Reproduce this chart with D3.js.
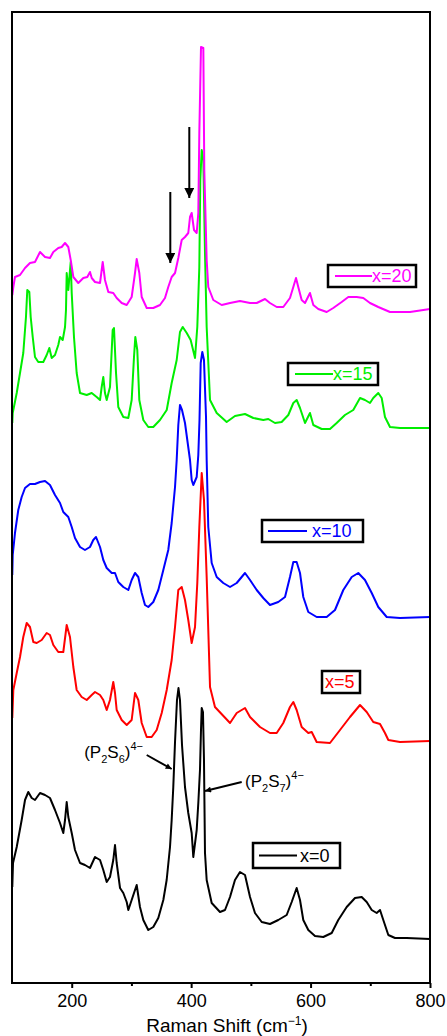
<!DOCTYPE html>
<html>
<head>
<meta charset="utf-8">
<script src="https://cdn.jsdelivr.net/npm/d3@7"></script>
<style>
  body { margin: 0; background: #fff; }
  svg { display: block; font-family: "Liberation Sans", Arial, sans-serif; }
</style>
</head>
<body>
<svg id="chart"></svg>
<script>
// Raman shift (cm-1) vs. stacked intensity (a.u.)
const xTicks = [200, 400, 600, 800];
const xMinorTicks = [300, 500, 700];
const seriesNames = ["x=0", "x=5", "x=10", "x=15", "x=20"];
const seriesColors = ["#000000", "#ff0000", "#0000ff", "#00ee00", "#ff00ff"];

const specX0 = [[100.5,96],[101.7,120],[107.9,136],[116.2,163],[121.8,183],[127.3,191],[133,185],[138.5,183],[146.9,190],[155.3,188],[163.6,185],[172,173],[180.4,160],[185.9,150],[188.8,163],[191.6,181],[194.3,166],[200,150],[205.5,133],[213.9,120],[222.2,118],[230.6,115],[239,126],[247.4,123],[252.9,113],[258.6,101],[264.1,106],[269.6,123],[272.5,138],[275.3,120],[280.9,95],[286.4,90],[292.1,81],[294.8,73],[300.4,83],[308.8,98],[314.3,76],[319.9,63],[328.2,53],[336.6,56],[345,65],[353.4,83],[359,103],[364.6,136],[367.4,163],[370.1,196],[373,241],[376.3,283],[378.8,295],[381.3,283],[384.7,238],[389.7,196],[395.2,170],[400.9,150],[403.6,126],[409.3,153],[412,180],[414.8,213],[416.5,253],[417.7,275],[419.8,271],[421.5,223],[423.2,130],[426,103],[434.4,80],[448.3,71],[456.7,73],[465.1,86],[473.4,103],[481.8,111],[490.2,108],[498.6,86],[506.9,70],[518.2,61],[532,59],[545.9,63],[560,68],[568.4,81],[576.7,95],[582.3,83],[587.8,63],[596.2,53],[607.4,47],[621.3,46],[635.4,50],[646.4,63],[660.5,76],[674.4,85],[685.6,86],[694,81],[702.4,73],[710.7,70],[716.3,73],[721.8,63],[730.2,48],[741.4,45],[761,45],[800,44]];

const specX5 = [[100.5,265],[102.2,293],[107.9,310],[113.4,326],[118.9,346],[124.6,360],[130.1,356],[135.7,341],[141.4,340],[149.7,343],[158.1,350],[163.6,348],[169.2,338],[177.5,331],[185.9,331],[191.6,358],[197.1,346],[202.7,316],[208.3,293],[216.7,286],[225.1,283],[233.5,288],[239,291],[247.4,288],[252.9,283],[258.6,273],[264.1,283],[269.6,301],[272.5,290],[275.3,273],[283.7,263],[292.1,258],[300.4,263],[306,290],[311.5,283],[317.2,260],[325.6,246],[333.9,246],[342.3,253],[350.7,270],[359.1,293],[367.4,323],[373,356],[378.5,393],[384.2,396],[389.7,383],[395.2,363],[400.9,340],[406.5,356],[410.3,400],[413.7,456],[417.7,510],[421.5,483],[426,406],[431.6,296],[439.9,276],[465.1,260],[476.3,270],[490.2,275],[498.6,266],[515.3,256],[532,250],[543.3,250],[554.3,260],[565.5,276],[571.1,281],[576.7,273],[585.1,256],[596.2,250],[601.9,251],[610.2,241],[632.5,240],[649.3,253],[666,266],[682.8,278],[694,271],[705,261],[716.3,259],[724.6,250],[730.2,243],[749.7,241],[800,242]];

const specX10 = [[100.5,408],[101.2,428],[105,450],[110.5,473],[116.2,486],[121.8,495],[130.1,499],[138.5,499],[146.9,501],[155.3,502],[163.6,498],[172,488],[180.4,480],[185.9,471],[194.3,466],[200,456],[205.5,445],[213.9,436],[222.2,433],[230.6,436],[236.1,443],[240.7,446],[247.4,436],[252.9,423],[258.6,415],[267,410],[272.5,410],[278,401],[286.4,396],[294.8,393],[300.4,403],[306,410],[311.5,406],[317.2,390],[322.7,378],[328.2,376],[336.6,381],[345,393],[353.4,413],[361.7,433],[367.4,460],[373,496],[375.8,523],[378.5,558],[381.3,578],[384.7,573],[389.7,560],[398.1,523],[400.9,503],[403.6,498],[409.3,506],[412,528],[414,563],[416,620],[418.7,631],[421.5,623],[424.9,566],[426,523],[428.7,456],[434.4,420],[442.8,406],[453.8,400],[465.1,396],[476.3,400],[490.2,410],[498.6,403],[509.8,393],[520.8,385],[532,378],[545.9,381],[557.2,386],[565.5,406],[571.1,421],[576.7,421],[582.3,410],[587.8,386],[596.2,371],[610.2,366],[627,366],[640.9,373],[654.8,393],[668.9,406],[679.9,410],[691.1,403],[702.4,390],[713.4,376],[727.5,366],[749.7,365],[800,366]];

const specX15 = [[100.5,560],[101.2,570],[107.9,590],[113.4,610],[118.9,630],[123.4,666],[125.6,693],[129,691],[131.3,666],[134.7,646],[138.5,626],[144,621],[152.4,621],[158.1,628],[162.5,635],[166.5,625],[172,628],[177.5,638],[180.4,646],[184.9,643],[188.8,656],[190.4,673],[191.6,710],[194.3,693],[198.3,721],[200,690],[203.8,646],[208.3,610],[213.9,590],[225.1,588],[233.5,590],[241.8,586],[247.4,583],[250.2,596],[252.9,606],[255.7,590],[258.6,583],[264.1,596],[268.6,653],[270.8,655],[274.2,610],[278,576],[286.4,566],[294.8,565],[300.4,583],[304.3,626],[306.5,646],[309.8,633],[313.2,583],[319.9,563],[328.2,556],[336.6,556],[347.8,563],[359.1,573],[367.4,600],[375.8,623],[381.3,651],[385.9,656],[392.6,650],[399.2,643],[406.5,625],[410.3,656],[413.7,716],[415.3,803],[417.7,833],[420.4,823],[423.2,730],[426,656],[431.6,583],[442.8,570],[459.5,561],[473.4,567],[490.2,569],[504.1,565],[520.8,563],[529.2,564],[540.4,560],[551.6,561],[562.7,568],[571.1,580],[576.7,583],[582.3,575],[590.7,560],[599,570],[604.6,558],[618.6,554],[632.5,554],[643.7,560],[657.6,568],[671.5,573],[682.8,585],[691.1,583],[699.5,580],[705,585],[713.4,590],[719.1,585],[724.6,566],[733,556],[749.7,555],[800,555]];

const specX20 = [[100.5,688],[102.2,696],[105,706],[113.4,708],[121.8,715],[130.1,720],[138.5,721],[146.9,731],[155.3,726],[163.6,725],[169.2,731],[177.5,735],[183.2,736],[188.8,740],[194.3,736],[198.3,723],[202.7,706],[211,700],[219.4,705],[226.1,706],[230.6,711],[233.5,705],[239,701],[247.4,700],[251.9,721],[255.7,703],[261.3,691],[269.6,690],[275.3,685],[283.7,680],[292.1,678],[300.4,686],[306,710],[308.8,724],[313.2,710],[317.2,686],[325.6,675],[336.6,675],[347.8,678],[356.2,685],[361.7,696],[367.4,706],[373,710],[378.5,725],[384.2,743],[389.7,746],[395.2,750],[398.1,766],[400.9,770],[404.8,753],[409.3,750],[412,770],[413.7,850],[416.5,936],[420.4,935],[422,813],[426,723],[428.7,696],[437.1,683],[451.2,678],[465.1,680],[481.8,682],[498.6,680],[509.8,680],[523.7,684],[532,680],[543.3,676],[554.3,676],[565.5,685],[571.1,696],[575.6,705],[579.4,696],[585.1,683],[590.7,680],[599,690],[604.6,678],[612.9,674],[627,671],[638,675],[652.1,681],[663.2,686],[677.2,686],[688.3,685],[699.5,680],[713.4,676],[733,671],[766.5,671],[800,674]];

const allSpectra = [specX0, specX5, specX10, specX15, specX20];

// annotation arrows: [shift, from intensity, to intensity]
const downArrows = [[396.9, 856, 785], [365.1, 791, 720]];

const width = 447, height = 1036;
const margin = { top: 12, right: 17, bottom: 53, left: 12 };

const svg = d3.select("#chart").attr("width", width).attr("height", height);

const x = d3.scaleLinear().domain([100, 800]).range([margin.left, width - margin.right]);
const y = d3.scaleLinear().domain([0, 971]).range([height - margin.bottom, margin.top]);

const defs = svg.append("defs");
defs.append("marker")
  .attr("id", "bigHead")
  .attr("viewBox", "0 0 10 10")
  .attr("refX", 10).attr("refY", 5)
  .attr("markerWidth", 5).attr("markerHeight", 5)
  .attr("markerUnits", "strokeWidth")
  .attr("orient", "auto")
  .append("path").attr("d", "M0,0 L10,5 L0,10 Z").attr("fill", "#000");
defs.append("marker")
  .attr("id", "smallHead")
  .attr("viewBox", "0 0 10 10")
  .attr("refX", 10).attr("refY", 5)
  .attr("markerWidth", 4).attr("markerHeight", 3)
  .attr("markerUnits", "strokeWidth")
  .attr("orient", "auto")
  .append("path").attr("d", "M0,0 L10,5 L0,10 Z").attr("fill", "#000");

const line = d3.line().x(d => x(d[0])).y(d => y(d[1]));

svg.append("g")
  .selectAll("path")
  .data(allSpectra)
  .join("path")
  .attr("d", line)
  .attr("fill", "none")
  .attr("stroke", (d, i) => seriesColors[i])
  .attr("stroke-width", 2)
  .attr("stroke-linejoin", "round");

// frame
svg.append("rect")
  .attr("x", margin.left).attr("y", margin.top)
  .attr("width", width - margin.left - margin.right)
  .attr("height", height - margin.top - margin.bottom)
  .attr("fill", "none").attr("stroke", "#000").attr("stroke-width", 2);

const xAxis = svg.append("g")
  .attr("transform", `translate(0,${height - margin.bottom})`)
  .call(d3.axisBottom(x).tickValues(xTicks).tickSize(5).tickPadding(6));
xAxis.select(".domain").remove();
xAxis.selectAll("line").attr("stroke-width", 2);
xAxis.selectAll("text").attr("font-size", 18).attr("font-family", "Liberation Sans, Arial, sans-serif").attr("fill", "#000");

const xMinor = svg.append("g")
  .attr("transform", `translate(0,${height - margin.bottom})`)
  .call(d3.axisBottom(x).tickValues(xMinorTicks).tickSize(3).tickFormat(""));
xMinor.select(".domain").remove();
xMinor.selectAll("line").attr("stroke-width", 2);

const title = svg.append("text")
  .attr("x", 227).attr("y", 1032)
  .attr("text-anchor", "middle")
  .attr("font-size", 19);
title.append("tspan").text("Raman Shift (cm");
title.append("tspan").attr("font-size", 12).attr("dy", -7).text("\u22121");
title.append("tspan").attr("dy", 7).text(")");

// downward arrows
svg.append("g")
  .selectAll("line")
  .data(downArrows)
  .join("line")
  .attr("x1", d => x(d[0])).attr("x2", d => x(d[0]))
  .attr("y1", d => y(d[1])).attr("y2", d => y(d[2]))
  .attr("stroke", "#000").attr("stroke-width", 2)
  .attr("marker-end", "url(#bigHead)");

// species labels
function species(anchorX, baseY, anchor, sub1, sub2) {
  const t = svg.append("text")
    .attr("x", anchorX).attr("y", baseY)
    .attr("text-anchor", anchor)
    .attr("font-size", 17);
  t.append("tspan").text("(P");
  t.append("tspan").attr("font-size", 11).attr("dy", 5).text(sub1);
  t.append("tspan").attr("dy", -5).text("S");
  t.append("tspan").attr("font-size", 11).attr("dy", 5).text(sub2);
  t.append("tspan").attr("dy", -5).text(")");
  t.append("tspan").attr("font-size", 11).attr("dy", -8).text("4\u2212");
}
species(x(319.4), y(225), "end", "2", "6");
species(x(490.2), y(196), "start", "2", "7");

svg.append("line")
  .attr("x1", x(325.6)).attr("y1", y(228))
  .attr("x2", x(367.4)).attr("y2", y(214))
  .attr("stroke", "#000").attr("stroke-width", 2)
  .attr("marker-end", "url(#smallHead)");
svg.append("line")
  .attr("x1", x(484.7)).attr("y1", y(201))
  .attr("x2", x(423.2)).attr("y2", y(192))
  .attr("stroke", "#000").attr("stroke-width", 2)
  .attr("marker-end", "url(#smallHead)");

// legend boxes (one per spectrum)
const legendLayout = [
  { box: [253, 843, 87, 25], line: [259, 297], tx: 300 },
  { box: [322, 671, 38, 22], line: null, tx: 325 },
  { box: [262, 520, 101, 22], line: [268, 307], tx: 312 },
  { box: [288, 363, 90, 22], line: [295, 333], tx: 333 },
  { box: [328, 265, 88, 22], line: [335, 372], tx: 372 }
];
legendLayout.forEach((L, i) => {
  const [bx, by, bw, bh] = L.box;
  const g = svg.append("g");
  g.append("rect")
    .attr("x", bx).attr("y", by).attr("width", bw).attr("height", bh)
    .attr("fill", "#fff").attr("stroke", "#000").attr("stroke-width", 2.5);
  if (L.line) {
    g.append("line")
      .attr("x1", L.line[0]).attr("x2", L.line[1])
      .attr("y1", by + bh / 2).attr("y2", by + bh / 2)
      .attr("stroke", seriesColors[i]).attr("stroke-width", 2);
  }
  g.append("text")
    .attr("x", L.tx).attr("y", by + bh / 2)
    .attr("dy", "0.36em")
    .attr("font-size", 18)
    .attr("fill", seriesColors[i])
    .text(seriesNames[i]);
});
</script>
</body>
</html>
